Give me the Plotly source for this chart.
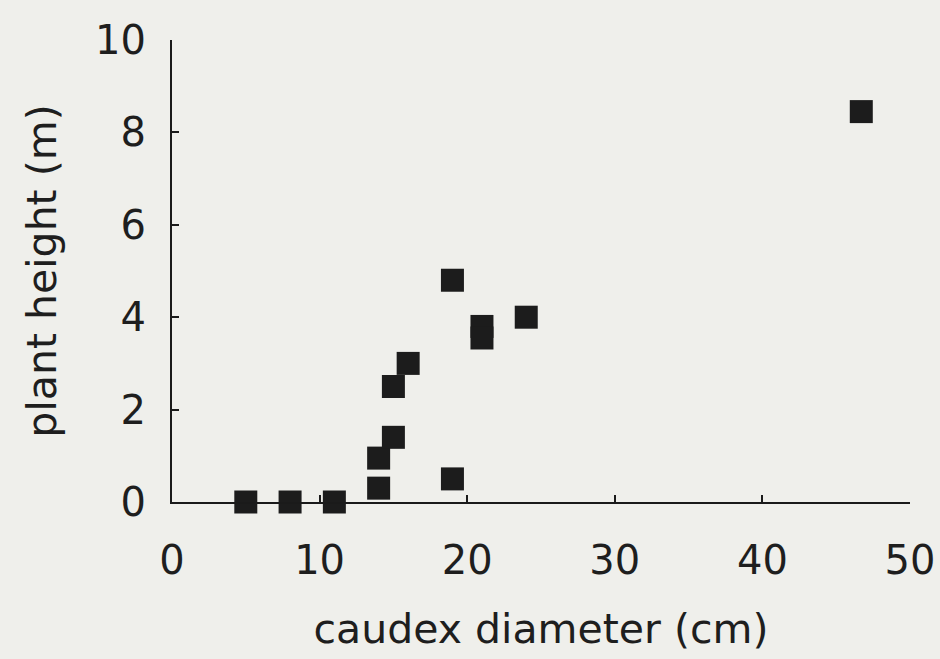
import plotly.graph_objects as go

caudex_diameter_cm = [5, 8, 11, 14, 14, 15, 15, 16, 19, 19, 21, 21, 24, 46.7]
plant_height_m = [0, 0, 0, 0.3, 0.95, 1.4, 2.5, 3.0, 0.5, 4.8, 3.8, 3.55, 4.0, 8.45]

x_ticks = [0, 10, 20, 30, 40, 50]
y_ticks = [0, 2, 4, 6, 8, 10]

bg = "#efefeb"
font_family = "DejaVu Sans, Verdana, sans-serif"

fig = go.Figure()
fig.add_trace(go.Scatter(
    x=caudex_diameter_cm, y=plant_height_m, mode="markers",
    marker=dict(symbol="square", size=23, color="#1c1c1c", line=dict(width=0)),
    cliponaxis=False, showlegend=False,
))

fig.update_layout(
    width=940, height=659,
    paper_bgcolor=bg, plot_bgcolor=bg,
    margin=dict(l=172, r=30, t=40, b=157),
    font=dict(family=font_family, size=40, color="#1e1e1e"),
    xaxis=dict(
        range=[0, 50], tickvals=x_ticks, ticktext=[str(v) for v in x_ticks],
        showline=True, linecolor="#1a1a1a", linewidth=2,
        ticks="inside", ticklen=7, tickwidth=2, tickcolor="#1a1a1a",
        showgrid=False, zeroline=False, ticklabelstandoff=22, automargin=False,
        tickfont=dict(size=40),
        title=dict(text="caudex diameter (cm)", font=dict(size=41), standoff=32),
    ),
    yaxis=dict(
        range=[0, 10], tickvals=y_ticks, ticktext=[str(v) for v in y_ticks],
        showline=True, linecolor="#1a1a1a", linewidth=2,
        ticks="inside", ticklen=7, tickwidth=2, tickcolor="#1a1a1a",
        showgrid=False, zeroline=False, ticklabelstandoff=16, automargin=False,
        tickfont=dict(size=40),
        title=dict(text="plant height (m)", font=dict(size=41), standoff=26),
    ),
)

fig.write_html(
    "out.html",
    config={"displayModeBar": False},
    post_script="document.body.style.margin='0';document.body.style.background='%s';" % bg,
)
